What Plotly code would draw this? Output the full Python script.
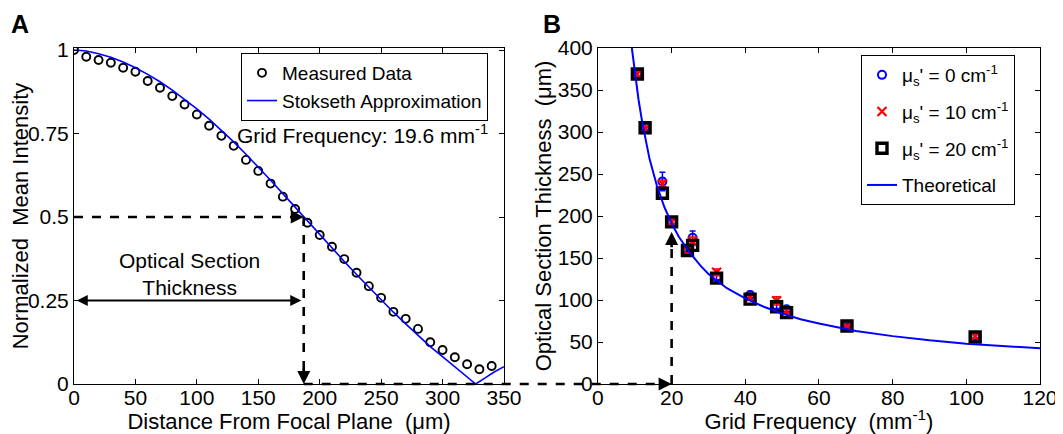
import plotly.graph_objects as go

# ---------------- Panel A data ----------------
dist_um = [0, 10, 20, 30, 40, 50, 60, 70, 80, 90, 100, 110, 120, 130, 140, 150, 160, 170,
           180, 190, 200, 210, 220, 230, 240, 250, 260, 270, 280, 290, 300, 310, 320, 330, 340]
measured = [1.0, 0.98, 0.97, 0.962, 0.947, 0.935, 0.907, 0.887, 0.862, 0.837, 0.807, 0.773,
            0.743, 0.713, 0.671, 0.638, 0.600, 0.561, 0.524, 0.483, 0.446, 0.411, 0.374, 0.333,
            0.293, 0.258, 0.216, 0.195, 0.165, 0.125, 0.102, 0.080, 0.059, 0.044, 0.054]
stok_x = [0, 10, 20, 30, 40, 50, 60, 70, 80, 90, 100, 110, 120, 130, 140, 150, 160, 170, 180,
          187, 190, 200, 210, 220, 230, 240, 250, 260, 270, 280, 290, 300, 310, 320, 327, 335, 342, 350]
stok_y = [1.0, 0.997, 0.989, 0.978, 0.964, 0.947, 0.927, 0.905, 0.880, 0.853, 0.824, 0.793,
          0.760, 0.725, 0.688, 0.650, 0.610, 0.570, 0.529, 0.500, 0.487, 0.446, 0.406, 0.367,
          0.328, 0.290, 0.252, 0.215, 0.180, 0.145, 0.112, 0.082, 0.052, 0.022, 0.0, 0.019,
          0.036, 0.052]
half_max_dist = 187
a_yticks = [0, 0.25, 0.5, 0.75, 1]
a_yticktext = ["0", "0.25", "0.5", "0.75", "1"]
a_xticks = [0, 50, 100, 150, 200, 250, 300, 350]

# ---------------- Panel B data ----------------
freq = [10.7, 12.8, 17.5, 20.0, 24.3, 25.7, 32.2, 41.3, 48.5, 51.2, 67.6, 102.4]
thick_0 = [370, 306, 241, 193, 160, 174, 127, 106, 93, 89, 70, 57]
err_0 = [3, 4, 11, 3, 3, 8, 3, 4, 3, 3, 2, 2]
thick_10 = [369, 303, 238, 193, 158, 170, 133, 103, 99, 87, 68, 57]
err_10 = [3, 4, 5, 3, 3, 5, 4, 3, 5, 3, 2, 2]
thick_20 = [369, 305, 227, 193, 159, 165, 126, 101, 92, 85, 69, 56]
theo_x = [9.2, 10, 11, 12, 13, 14, 16, 18, 20, 22, 25, 28, 30, 35, 40, 45, 50, 55, 60, 70,
          80, 90, 100, 110, 120]
theo_y = [400, 372, 339, 312, 288, 268, 236, 211, 191, 175, 156, 140, 131, 114, 102, 92, 84,
          77, 72, 63, 57, 52, 48, 45, 42.5]
grid_freq_arrow = 20
arrow_top = 181
b_xticks = [0, 20, 40, 60, 80, 100, 120]
b_yticks = [0, 50, 100, 150, 200, 250, 300, 350, 400]

FONT = "Arial, Liberation Sans, sans-serif"
BLUE = "#0000FF"
RED = "#FF0000"
TICK_SIZE = 21
TITLE_SIZE = 22
ANN_SIZE = 21
LEG_SIZE = 19

fig = go.Figure()

# Panel A
fig.add_trace(go.Scatter(x=dist_um, y=measured, mode="markers", name="Measured Data",
                         marker=dict(symbol="circle-open", size=8, color="black",
                                     line=dict(width=1.9, color="black")),
                         xaxis="x", yaxis="y", legend="legend"))
fig.add_trace(go.Scatter(x=stok_x, y=stok_y, mode="lines", name="Stokseth Approximation",
                         line=dict(color=BLUE, width=1.6),
                         xaxis="x", yaxis="y", legend="legend"))

# Panel B
fig.add_trace(go.Scatter(x=freq, y=thick_0, mode="markers",
                         name="μ<sub>s</sub>' = 0 cm<sup>-1</sup>", legendgroup="g0",
                         marker=dict(symbol="circle-open", size=8, color=BLUE,
                                     line=dict(width=2, color=BLUE)),
                         error_y=dict(type="data", array=err_0, color=BLUE, thickness=1.5, width=3),
                         xaxis="x2", yaxis="y2", legend="legend2"))
fig.add_trace(go.Scatter(x=freq, y=thick_10, mode="markers",
                         name="μ<sub>s</sub>' = 10 cm<sup>-1</sup>", legendgroup="g10",
                         marker=dict(symbol="x-thin-open", size=9, color=RED,
                                     line=dict(width=2.2, color=RED)),
                         error_y=dict(type="data", array=err_10, color=RED, thickness=1.5, width=3),
                         xaxis="x2", yaxis="y2", legend="legend2"))
fig.add_trace(go.Scatter(x=freq, y=thick_20, mode="markers",
                         name="μ<sub>s</sub>' = 20 cm<sup>-1</sup>", legendgroup="g20",
                         marker=dict(symbol="square-open", size=10, color="black",
                                     line=dict(width=3.4, color="black")),
                         xaxis="x2", yaxis="y2", legend="legend2"))
fig.add_trace(go.Scatter(x=theo_x, y=theo_y, mode="lines", name="Theoretical",
                         legendgroup="gt", line=dict(color=BLUE, width=2),
                         xaxis="x2", yaxis="y2", legend="legend2"))

# page body has an 8px margin: size the figure so that it fits the 1063x434 window
OFF = 8
W, H = 1063 - OFF, 434 - OFF
ML, MT = 74 - OFF, 48 - OFF
MR = W - (1040 - OFF)
MB = H - (384 - OFF)
xa_dom = [0, 0.4451]
xb_dom = [0.5424, 1]
xa_rng = [0, 350]
xb_rng = [0, 120]
ya_rng = [0, 1.006]
yb_rng = [0, 400]

axis_common = dict(showline=True, linecolor="black", linewidth=1, mirror="ticks",
                   ticks="inside", ticklen=5, tickcolor="black", showgrid=False,
                   zeroline=False, tickfont=dict(family=FONT, size=TICK_SIZE, color="black"),
                   automargin=False)

fig.update_layout(
    width=W, height=H,
    margin=dict(l=ML, r=MR, t=MT, b=MB),
    paper_bgcolor="white", plot_bgcolor="white",
    font=dict(family=FONT, size=LEG_SIZE, color="black"),
    xaxis=dict(domain=xa_dom, range=xa_rng, tickvals=a_xticks, anchor="y",
               ticklabelstandoff=-5,
               title=dict(text="Distance From Focal Plane  (μm)", standoff=0,
                          font=dict(size=TITLE_SIZE)), **axis_common),
    yaxis=dict(domain=[0, 1], range=ya_rng, tickvals=a_yticks, ticktext=a_yticktext,
               anchor="x", title=dict(text="Normalized  Mean Intensity", standoff=0,
                                      font=dict(size=TITLE_SIZE)), **axis_common),
    xaxis2=dict(domain=xb_dom, range=xb_rng, tickvals=b_xticks, anchor="y2",
                ticklabelstandoff=-5,
                title=dict(text="Grid Frequency  (mm<sup>-1</sup>)", standoff=0,
                           font=dict(size=TITLE_SIZE)), **axis_common),
    yaxis2=dict(domain=[0, 1], range=yb_rng, tickvals=b_yticks, anchor="x2",
                title=dict(text="Optical Section Thickness  (μm)", standoff=0,
                           font=dict(size=TITLE_SIZE)), **axis_common),
    legend=dict(x=(241 - 74) / 966, y=(384 - 53) / 336, xanchor="left", yanchor="top",
                bgcolor="white", bordercolor="black", borderwidth=1, font=dict(size=LEG_SIZE),
                tracegroupgap=0, itemwidth=30),
    legend2=dict(x=(861 - 74) / 966, y=(384 - 55) / 336, xanchor="left", yanchor="top",
                 bgcolor="white", bordercolor="black", borderwidth=1, font=dict(size=LEG_SIZE),
                 tracegroupgap=9, itemwidth=30),
    showlegend=True,
)

def xa_paper(v):
    return xa_dom[0] + (v - xa_rng[0]) / (xa_rng[1] - xa_rng[0]) * (xa_dom[1] - xa_dom[0])

def xb_paper(v):
    return xb_dom[0] + (v - xb_rng[0]) / (xb_rng[1] - xb_rng[0]) * (xb_dom[1] - xb_dom[0])

dash_line = dict(color="black", width=2.6, dash="dash")
shapes = [
    dict(type="line", xref="x", yref="y", x0=0, y0=0.5, x1=half_max_dist - 6, y1=0.5,
         line=dash_line, layer="above"),
    dict(type="line", xref="x", yref="y", x0=half_max_dist, y0=0.5, x1=half_max_dist,
         y1=0.03, line=dash_line, layer="above"),
    dict(type="line", xref="paper", yref="paper", x0=xa_paper(half_max_dist), y0=0,
         x1=xb_paper(grid_freq_arrow) - 0.008, y1=0, line=dash_line, layer="above"),
    dict(type="line", xref="x2", yref="y2", x0=grid_freq_arrow, y0=0, x1=grid_freq_arrow,
         y1=arrow_top - 14, line=dash_line, layer="above"),
]
fig.update_layout(shapes=shapes)

ann = []
ann.append(dict(x=half_max_dist, y=0.5, ax=half_max_dist - 8, ay=0.5, xref="x", yref="y",
                axref="x", ayref="y", text="", showarrow=True, arrowhead=2, arrowsize=1,
                arrowwidth=2.6, arrowcolor="black"))
ann.append(dict(x=half_max_dist, y=0.0, ax=half_max_dist, ay=0.05, xref="x", yref="y",
                axref="x", ayref="y", text="", showarrow=True, arrowhead=2, arrowsize=1,
                arrowwidth=2.6, arrowcolor="black"))
ann.append(dict(x=grid_freq_arrow, y=0, ax=grid_freq_arrow - 3, ay=0, xref="x2", yref="y2",
                axref="x2", ayref="y2", text="", showarrow=True, arrowhead=2, arrowsize=1,
                arrowwidth=2.6, arrowcolor="black"))
ann.append(dict(x=grid_freq_arrow, y=arrow_top, ax=grid_freq_arrow, ay=arrow_top - 20,
                xref="x2", yref="y2", axref="x2", ayref="y2", text="", showarrow=True,
                arrowhead=2, arrowsize=1, arrowwidth=2.6, arrowcolor="black"))
ann.append(dict(x=half_max_dist - 2, y=0.25, ax=1, ay=0.25, xref="x", yref="y",
                axref="x", ayref="y", text="", showarrow=True, arrowhead=2, startarrowhead=2,
                arrowside="end+start", arrowsize=1, startarrowsize=1, arrowwidth=2.2,
                arrowcolor="black"))
ann.append(dict(x=94, y=0.33, xref="x", yref="y", text="Optical Section<br>Thickness",
                showarrow=False, font=dict(size=ANN_SIZE), align="center"))
ann.append(dict(x=235, y=0.749, xref="x", yref="y", text="Grid Frequency: 19.6 mm<sup>-1</sup>",
                showarrow=False, font=dict(size=ANN_SIZE)))

# panel letters, positioned in window pixels, converted to plot-area paper coords
def page_to_paper(px, py):
    fx, fy = px - OFF, py - OFF
    return (fx - ML) / (W - ML - MR), 1 - (fy - MT) / (H - MT - MB)

for letter, (px, py) in (("A", (20, 24)), ("B", (552, 24))):
    x, y = page_to_paper(px, py)
    ann.append(dict(x=x, y=y, xref="paper", yref="paper", text="<b>%s</b>" % letter,
                    showarrow=False, font=dict(size=25), xanchor="center", yanchor="middle"))

fig.update_layout(annotations=ann)

fig.write_html("out.html")
